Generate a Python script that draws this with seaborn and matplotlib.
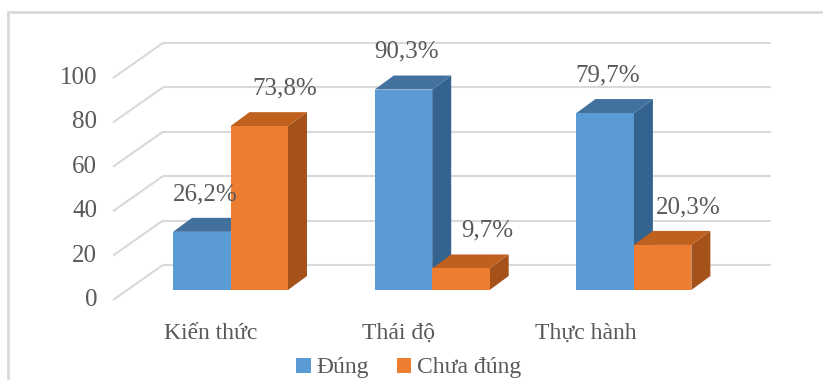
import numpy as np
import pandas as pd
import seaborn as sns
import matplotlib.pyplot as plt
from matplotlib.patches import Polygon
from matplotlib.lines import Line2D

# === Data ===
categories = ["Kiến thức", "Thái độ", "Thực hành"]
series = ["Đúng", "Chưa đúng"]
dung = [26.2, 90.3, 79.7]
chua_dung = [73.8, 9.7, 20.3]
yticks = [0, 20, 40, 60, 80, 100]

df = pd.DataFrame({
    "cat": categories * 2,
    "series": [series[0]] * 3 + [series[1]] * 3,
    "value": dung + chua_dung,
})

front_col = {"Đúng": "#5B9BD5", "Chưa đúng": "#ED7D31"}
top_col = {"Đúng": "#41719C", "Chưa đúng": "#C0601F"}
side_col = {"Đúng": "#35638F", "Chưa đúng": "#A4521A"}
text_col = "#595959"
grid_col = "#D9D9D9"

# === Figure (axes spans whole figure, pixels mapped to data) ===
W, H = 823, 380
fig = plt.figure(figsize=(W / 100, H / 100), dpi=100)
sns.set_style("white")
plt.rcParams["font.family"] = ["Liberation Serif", "DejaVu Serif"]
ax = fig.add_axes([0, 0, 1, 1])

sns.barplot(data=df, x="cat", y="value", hue="series", order=categories,
            hue_order=series, palette=front_col, width=0.57, saturation=1,
            ax=ax, legend=False, linewidth=0)

px_x = 201.7   # pixels per category
px_y = 2.22    # pixels per value unit
x0_px, y0_px = 230.5, 290
ax.set_xlim(-x0_px / px_x, (W - x0_px) / px_x)
ax.set_ylim((y0_px - H) / px_y, y0_px / px_y)
ax.axis("off")

# 3D depth
ddx = 19 / px_x
ddy = 14 / px_y

for k, (name, cont) in enumerate(zip(series, ax.containers)):
    for rect in cont:
        x, w, h = rect.get_x(), rect.get_width(), rect.get_height()
        z = 2 + 2 * k
        rect.set_zorder(z + 1)
        top = Polygon([(x, h), (x + ddx, h + ddy), (x + w + ddx, h + ddy), (x + w, h)],
                      closed=True, fc=top_col[name], ec="none", zorder=z + 0.5)
        side = Polygon([(x + w, 0), (x + w + ddx, ddy), (x + w + ddx, h + ddy), (x + w, h)],
                       closed=True, fc=side_col[name], ec="none", zorder=z)
        ax.add_patch(top)
        ax.add_patch(side)

# gridlines: slanted left wall + back wall
front_shift = -4.5
back_shift = 11.3
xl_front = (113 - x0_px) / px_x
xl_back = (163 - x0_px) / px_x
x_right = (771 - x0_px) / px_x
for v in yticks:
    ax.plot([xl_front, xl_back], [v + front_shift, v + back_shift],
            color=grid_col, lw=1.5, zorder=1, solid_capstyle="butt")
    ax.plot([xl_back, x_right], [v + back_shift, v + back_shift],
            color=grid_col, lw=1.5, zorder=1, solid_capstyle="butt")
    ax.text((97 - x0_px) / px_x, v + front_shift, str(v), ha="right", va="center",
            fontsize=18, color=text_col)

# value labels
lab_dx = {"Đúng": 3 / px_x, "Chưa đúng": 26 / px_x}
for name, vals in zip(series, [dung, chua_dung]):
    for i, v in enumerate(vals):
        off = -0.285 / 2 if name == "Đúng" else 0.285 / 2
        ax.text(i + off + lab_dx[name], v + 17, f"{v:.1f}%".replace(".", ","),
                ha="center", va="center", fontsize=18, color=text_col, zorder=10)

# category labels
for i, c in enumerate(categories):
    ax.text(i - (20 + 14 * i) / px_x, -19.4, c, ha="center", va="center",
            fontsize=17, color=text_col)

# legend
handles = [plt.Rectangle((0, 0), 1, 1, fc=front_col[s], ec="none") for s in series]
fig.legend(handles, series, loc="center", bbox_to_anchor=(409 / W, 1 - 368 / H),
           ncol=2, frameon=False, fontsize=17, handlelength=0.6, handleheight=0.6,
           handletextpad=0.25, columnspacing=1.2, labelcolor=text_col)

# chart border
fig.add_artist(Line2D([8 / W, 8 / W], [0, 1 - 12 / H], color=grid_col, lw=2))
fig.add_artist(Line2D([8 / W, 1], [1 - 12 / H, 1 - 12 / H], color=grid_col, lw=2))

fig.savefig("out.png", dpi=100)
